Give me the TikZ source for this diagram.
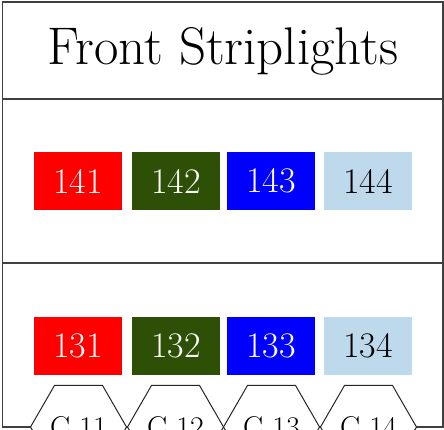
\documentclass[tikz,border=0pt]{standalone}
\usepackage{xcolor}
\usepackage{tikz}
\usetikzlibrary{shapes.geometric}
\definecolor{stripgreen}{RGB}{46,80,6}
\definecolor{stripsky}{RGB}{191,217,236}
\tikzstyle{strip_box} = [rectangle, draw=none, inner sep=0pt, minimum width=44pt, minimum height=29pt, font=\fontsize{18}{21}\selectfont, text centered]
\tikzstyle{strip_hex} = [regular polygon, regular polygon sides=6, draw=black!85, fill=white, line width=0.5pt, inner sep=0pt, minimum size=48pt, font=\fontsize{15}{18}\selectfont]
\tikzstyle{frame_line} = [draw=black!75, line width=0.6pt]

\begin{document}
\begin{tikzpicture}[x=0.5pt,y=-0.5pt]
\useasboundingbox (0,0) rectangle (444,429);
% frame and separators
\coordinate (tl) at (2.5,2);
\coordinate (br) at (443,427);
\coordinate (s1l) at (2.5,99);
\coordinate (s1r) at (443,99);
\coordinate (s2l) at (2.5,263);
\coordinate (s2r) at (443,263);
\draw [frame_line] (tl) rectangle (br);
\draw [frame_line] (s1l) -- (s1r);
\draw [frame_line] (s2l) -- (s2r);
% title
\node [anchor=base, font=\fontsize{26.5}{31}\selectfont] (title) at (223,64) {Front Striplights};
% upper row
\node [strip_box, fill=red, text=white] (b141) at (78,181) {141};
\node [strip_box, fill=stripgreen, text=white] (b142) at (176,181) {142};
\node [strip_box, fill=blue, text=white] (b143) at (271,181) {143};
\node [strip_box, fill=stripsky, text=black] (b144) at (368,181) {144};
% lower row
\node [strip_box, fill=red, text=white] (b131) at (78,346) {131};
\node [strip_box, fill=stripgreen, text=white] (b132) at (176,346) {132};
\node [strip_box, fill=blue, text=white] (b133) at (271,346) {133};
\node [strip_box, fill=stripsky, text=black] (b134) at (368,346) {134};
% circuits
\node [strip_hex] (c11) at (78.5,427) {C 11};
\node [strip_hex] (c12) at (175.5,427) {C 12};
\node [strip_hex] (c13) at (271.5,427) {C 13};
\node [strip_hex] (c14) at (368.5,427) {C 14};
\end{tikzpicture}
\end{document}
